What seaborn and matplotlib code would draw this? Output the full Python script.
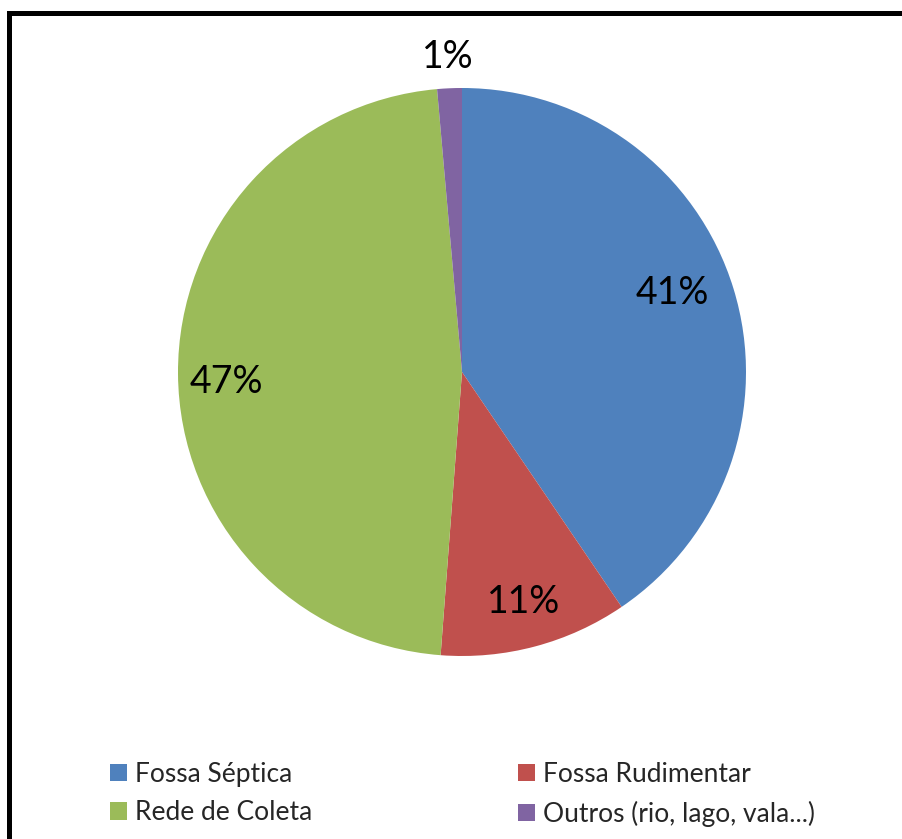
import numpy as np
import matplotlib
matplotlib.use("Agg")
import matplotlib.pyplot as plt
import matplotlib.patches as mpatches
import seaborn as sns

categories = ["Fossa Séptica", "Fossa Rudimentar", "Rede de Coleta", "Outros (rio, lago, vala...)"]
values = [40.5, 10.7, 47.4, 1.4]
pct_labels = ["41%", "11%", "47%", "1%"]
colors = ["#4F81BD", "#C0504D", "#9BBB59", "#8064A2"]

sns.set_theme(style="white")
plt.rcParams['font.family'] = ['Lato', 'DejaVu Sans']

W, H = 903, 839
fig = plt.figure(figsize=(W / 100, H / 100), dpi=100)
fig.patch.set_facecolor("white")

cx, cy, R = 462, 372, 284
ax = fig.add_axes([(cx - R) / W, (H - cy - R) / H, 2 * R / W, 2 * R / H])
wedges, _ = ax.pie(values, colors=colors, startangle=90, counterclock=False,
                   radius=1, wedgeprops=dict(linewidth=0))
ax.set_xlim(-1, 1)
ax.set_ylim(-1, 1)
ax.set_aspect("equal")
ax.axis("off")

# label placement (distance from center as fraction of radius, angle offset in deg)
dists = [0.79, 0.84, 0.83, 1.11]
offs = [3.5, 0, 2.0, 0]
for w, lab, d, o in zip(wedges, pct_labels, dists, offs):
    ang = np.deg2rad((w.theta1 + w.theta2) / 2 + o)
    ax.text(d * np.cos(ang), d * np.sin(ang), lab, ha="center", va="center",
            fontsize=27, color="black")

order = [0, 2, 1, 3]
handles = [mpatches.Patch(facecolor=colors[i], edgecolor="none") for i in order]
labels = [categories[i] for i in order]
leg = fig.legend(handles, labels, ncol=2, loc="upper left",
                 bbox_to_anchor=(110 / W, 1 - 762 / H), frameon=False,
                 fontsize=19, handlelength=0.64, handleheight=0.64,
                 handletextpad=0.3, labelspacing=0.51, columnspacing=7.8,
                 borderpad=0, borderaxespad=0)

# outer frame
frame = mpatches.Rectangle((9 / W, -0.2), 1.2, (H - 13.5) / H + 0.2,
                           transform=fig.transFigure, fill=False,
                           edgecolor="black", linewidth=3.6, clip_on=False)
fig.patches.append(frame)

fig.savefig("out.png", dpi=100)
